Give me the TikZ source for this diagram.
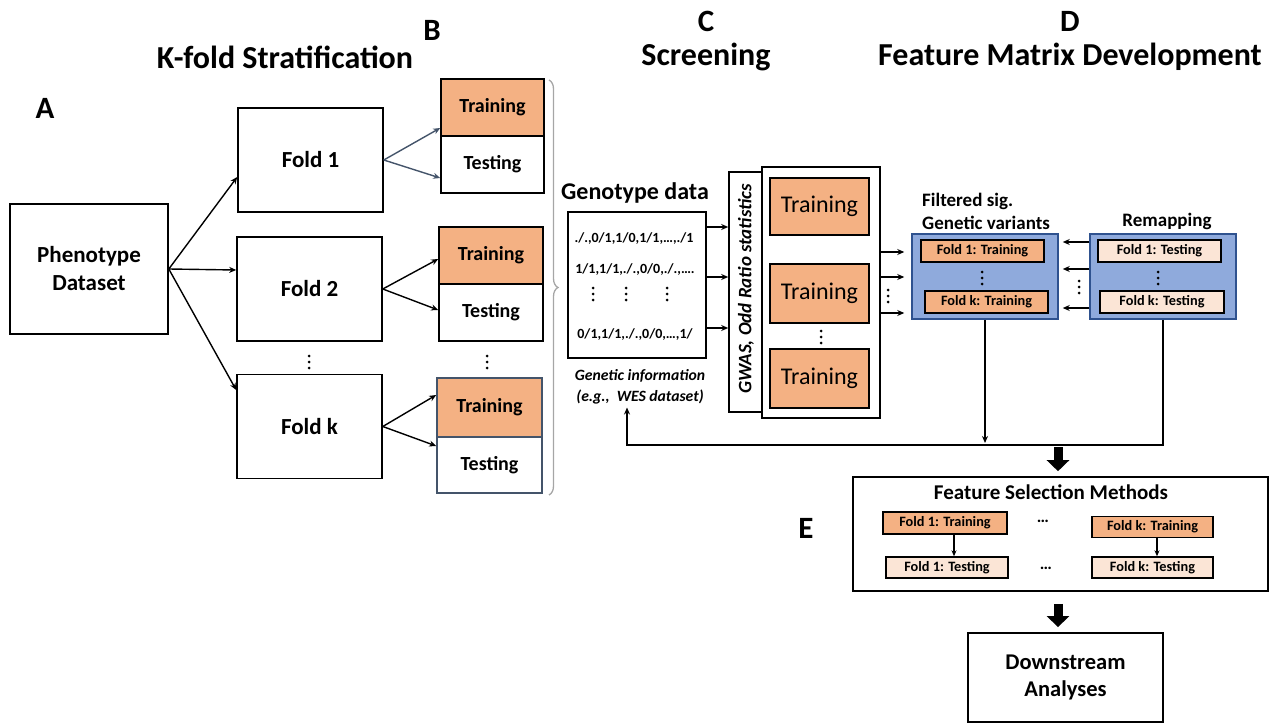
\documentclass[tikz,border=0pt]{standalone}
\usepackage{fontspec}
\setmainfont{Carlito}
\usetikzlibrary{arrows.meta,decorations.pathreplacing,calc}
\definecolor{trainc}{HTML}{F4B183}
\definecolor{testc}{HTML}{FBE5D6}
\definecolor{bluefill}{HTML}{8FAADC}
\definecolor{blueline}{HTML}{2F528F}
\definecolor{slate}{HTML}{44546A}
\definecolor{bracec}{HTML}{A6A6A6}
% three stacked dots centred on (x,y)
\newcommand{\vdotsat}[2]{%
  \foreach \dy in {-6,0,6} {\fill ({#1},{#2+\dy}) circle (1.5pt);}}
\tikzset{
  box/.style={draw=black, line width=1.6pt, rectangle, inner sep=0pt, fill=white},
  foldtxt/.style={font=\fontsize{23}{28}\selectfont\bfseries, align=center},
  splittxt/.style={font=\fontsize{20}{24}\selectfont\bfseries, align=center},
  title/.style={font=\fontsize{32}{36}\selectfont\bfseries, inner sep=0pt},
  letter/.style={font=\fontsize{31}{34}\selectfont\bfseries, inner sep=0pt},
  trbox/.style={box, fill=trainc},
  tebox/.style={box, fill=white},
  smalltr/.style={draw=black, line width=1.4pt, fill=trainc, inner sep=0pt, font=\fontsize{14.3}{16}\selectfont\bfseries},
  smallte/.style={draw=black, line width=1.4pt, fill=testc, inner sep=0pt, font=\fontsize{14.3}{16}\selectfont\bfseries},
  arr/.style={line width=1.4pt, -{Stealth[length=7pt,width=6pt]}},
  sarr/.style={line width=1.4pt, draw=slate, -{Stealth[length=7pt,width=6pt]}},
  fat/.style={line width=9pt, -{Triangle[length=11pt,width=22pt]}},
  gline/.style={inner sep=0pt, font=\fontsize{14}{16}\selectfont\bfseries},
}
\begin{document}
\begin{tikzpicture}[x=1pt,y=-1pt]
\useasboundingbox (0,0) rectangle (1272,725);

% section headings
\node[letter] (lA) at (45,108) {A};
\node[letter] (lB) at (432,30) {B};
\node[title] (tB) at (285,57) {K-fold Stratification};
\node[letter] (lC) at (706,21) {C};
\node[title] (tC) at (706,57) {Screening};
\node[letter] (lD) at (1070,21) {D};
\node[title] (tD) at (1070,57) {Feature Matrix Development};
\node[letter] (lE) at (806,528) {E};

% A: phenotype and folds
\node[box, minimum width=158pt, minimum height=130pt, foldtxt] (ph) at (89,269) {Phenotype\\Dataset};
\node[box, minimum width=145pt, minimum height=104pt, foldtxt] (f1) at (310.5,160) {Fold 1};
\node[box, minimum width=145pt, minimum height=104pt, foldtxt] (f2) at (309.5,289) {Fold 2};
\node[box, minimum width=145pt, minimum height=104pt, foldtxt] (fk) at (309.5,426.5) {Fold k};
\vdotsat{309}{362}

\draw[arr] (ph.east) -- ([yshift=-17pt]f1.west);
\draw[arr] (ph.east) -- ([yshift=19pt]f2.west);
\draw[arr] (ph.east) -- ([yshift=36.5pt]fk.west);

% B: training / testing splits
\node[trbox, minimum width=103pt, minimum height=57pt, splittxt] (tr1) at (492.5,107.5) {Training};
\node[tebox, minimum width=103pt, minimum height=57pt, splittxt] (te1) at (492.5,164.5) {Testing};
\node[trbox, minimum width=104pt, minimum height=57pt, splittxt] (tr2) at (491,255.5) {Training};
\node[tebox, minimum width=104pt, minimum height=57pt, splittxt] (te2) at (491,312.5) {Testing};
\node[trbox, draw=slate, minimum width=105pt, minimum height=59pt, splittxt] (tr3) at (489.5,407.5) {Training};
\node[tebox, draw=slate, minimum width=105pt, minimum height=56pt, splittxt] (te3) at (489.5,465) {Testing};
\vdotsat{487}{362}

\draw[sarr] (f1.east) -- ([yshift=-20.5pt]tr1.west);
\draw[sarr] (f1.east) -- ([yshift=-13.5pt]te1.west);
\draw[arr] (f2.east) -- ([yshift=-3.5pt]tr2.west);
\draw[arr] (f2.east) -- ([yshift=2.5pt]te2.west);
\draw[arr] (fk.east) -- ([yshift=12.5pt]tr3.west);
\draw[arr] (fk.east) -- ([yshift=19pt]te3.west);

% brace grouping all splits
\coordinate (brt) at (549,80);
\coordinate (brb) at (549,495);
\draw[bracec, line width=1.3pt, decorate, decoration={brace, amplitude=9pt}] (brt) -- (brb);

% C: genotype data and screening
\node[inner sep=0pt, font=\fontsize{24}{28}\selectfont\bfseries] (gtitle) at (635,193) {Genotype data};
\node[box, line width=1.2pt, minimum width=138pt, minimum height=146pt] (geno) at (637,285) {};
\node[gline] (g1) at (634,239) {./.,0/1,1/0,1/1,\dots,./1};
\node[gline] (g2) at (635,270) {1/1,1/1,./.,0/0,./.,\dots.};
\vdotsat{593}{294}
\vdotsat{626}{294}
\vdotsat{667}{294}
\node[gline] (g3) at (635,335) {0/1,1/1,./.,0/0,\dots,1/};
\node[inner sep=0pt, align=center, font=\fontsize{15.7}{21}\selectfont\bfseries\itshape] (gnote) at (640,387) {Genetic information\\(e.g.,\ \ WES dataset)};

\node[box, line width=1.6pt, minimum width=61pt, minimum height=240pt] (gwas) at (759.5,292) {};
\node[inner sep=0pt, rotate=90, font=\fontsize{19}{22}\selectfont\bfseries\itshape] (gwast) at (746,289) {GWAS, Odd Ratio statistics};
\node[box, line width=1.6pt, minimum width=118pt, minimum height=251pt] (panel) at (821,292.5) {};
\node[trbox, minimum width=99pt, minimum height=57pt, font=\fontsize{24}{28}\selectfont] (pt1) at (819.5,206.5) {Training};
\node[trbox, minimum width=99pt, minimum height=59pt, font=\fontsize{24}{28}\selectfont] (pt2) at (819.5,293.5) {Training};
\node[trbox, minimum width=99pt, minimum height=59pt, font=\fontsize{24}{28}\selectfont] (pt3) at (819.5,378.5) {Training};
\vdotsat{821}{337}

\draw[arr] (geno.east |- 0,227) -- (gwas.west |- 0,227);
\draw[arr] (geno.east |- 0,277) -- (gwas.west |- 0,277);
\draw[arr] (geno.east |- 0,328) -- (gwas.west |- 0,328);

% D: feature matrix development
\node[inner sep=0pt, align=left, anchor=west, font=\fontsize{19}{23}\selectfont\bfseries] (filt) at (922,211) {Filtered sig.\\Genetic variants};
\node[inner sep=0pt, font=\fontsize{19}{22}\selectfont\bfseries] (remt) at (1167,221) {Remapping};
\node[draw=blueline, line width=1.5pt, fill=bluefill, minimum width=146pt, minimum height=85pt] (fil) at (985,276.5) {};
\node[draw=blueline, line width=1.5pt, fill=bluefill, minimum width=146pt, minimum height=85pt] (rem) at (1163,276.5) {};
\node[smalltr, minimum width=123pt, minimum height=22pt] (d1tr) at (982.5,251) {Fold 1: Training};
\node[smalltr, minimum width=123pt, minimum height=22pt] (dktr) at (986.5,302) {Fold k: Training};
\node[smallte, minimum width=123pt, minimum height=22pt] (d1te) at (1159.5,251) {Fold 1: Testing};
\node[smallte, minimum width=124pt, minimum height=22pt] (dkte) at (1162,302) {Fold k: Testing};
\vdotsat{982}{278}
\vdotsat{1158}{278}
\vdotsat{888}{296}
\vdotsat{1079}{287}

\draw[arr, shorten >=7pt] (panel.east |- 0,252) -- (fil.west |- 0,252);
\draw[arr, shorten >=7pt] (panel.east |- 0,277) -- (fil.west |- 0,277);
\draw[arr, shorten >=7pt] (panel.east |- 0,313) -- (fil.west |- 0,313);
\draw[arr, shorten >=4pt] (rem.west |- 0,242) -- (fil.east |- 0,242);
\draw[arr, shorten >=4pt] (rem.west |- 0,269) -- (fil.east |- 0,269);
\draw[arr, shorten >=4pt] (rem.west |- 0,308) -- (fil.east |- 0,308);

% return path to the genotype data
\coordinate (jn) at (985,445);
\coordinate (gl) at (627,445);
\draw[arr, line width=1.2pt, shorten >=2pt] (fil.south) -- (jn);
\draw[arr, line width=1.2pt, shorten >=3pt] (rem.south) |- (gl) -- (gl |- gnote.south);

% E: feature selection
\coordinate (ax) at (1058,0);
\node[box, line width=1.6pt, minimum width=415pt, minimum height=114pt] (fs) at (1060.5,534) {};
\node[inner sep=0pt, font=\fontsize{21}{24}\selectfont\bfseries] (fst) at (1051,492) {Feature Selection Methods};
\node[smalltr, minimum width=124pt, minimum height=22pt] (s1tr) at (945,523) {Fold 1: Training};
\node[smallte, minimum width=122pt, minimum height=21pt] (s1te) at (947,567.5) {Fold 1: Testing};
\node[smalltr, minimum width=121pt, minimum height=21pt] (sktr) at (1152.5,527) {Fold k: Training};
\node[smallte, minimum width=121pt, minimum height=21pt] (skte) at (1152.5,567.5) {Fold k: Testing};
\node[inner sep=0pt, font=\fontsize{17}{17}\selectfont\bfseries] (sd1) at (1043,521) {\dots};
\node[inner sep=0pt, font=\fontsize{17}{17}\selectfont\bfseries] (sd2) at (1046,568) {\dots};
\draw[arr, line width=1.2pt, -{Stealth[length=6pt,width=5pt]}] (s1tr.south -| 954,0) -- (s1te.north -| 954,0);
\draw[arr, line width=1.2pt, -{Stealth[length=6pt,width=5pt]}] (sktr.south -| 1157,0) -- (skte.north -| 1157,0);

\draw[fat] ([yshift=-2pt]jn -| ax) -- ([yshift=5pt]fs.north -| ax);

% downstream
\node[box, line width=1.8pt, minimum width=195pt, minimum height=89pt, font=\fontsize{22.5}{27}\selectfont\bfseries, align=center] (ds) at (1065.5,677.5) {Downstream\\Analyses};
\draw[fat] ([yshift=-12pt]fs.south -| ax) -- ([yshift=5pt]ds.north -| ax);
\end{tikzpicture}
\end{document}
